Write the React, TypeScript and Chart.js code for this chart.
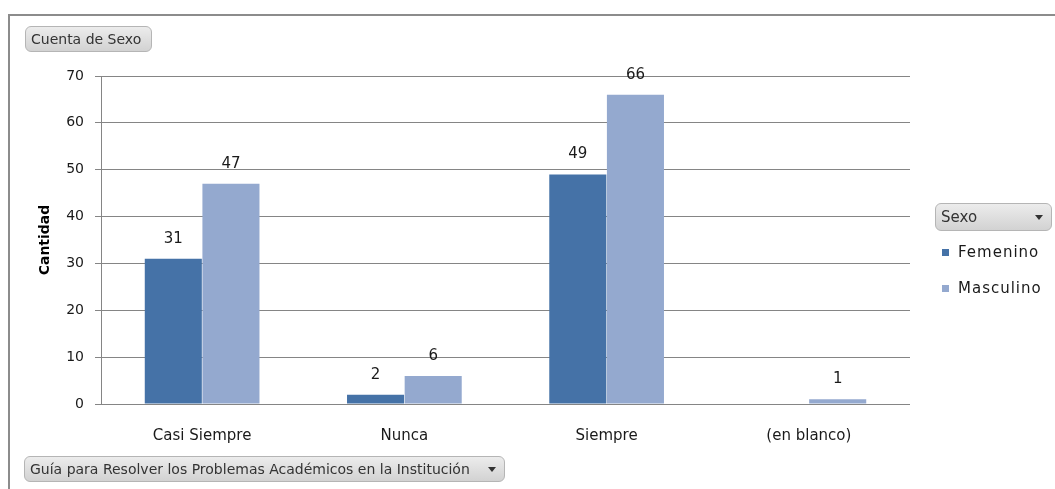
import React, { useEffect, useRef } from "react";
import { Chart, registerables } from "chart.js";

Chart.register(...registerables);

const categories = ["Casi Siempre", "Nunca", "Siempre", "(en blanco)"];
const femenino: (number | null)[] = [31, 2, 49, null];
const masculino: (number | null)[] = [47, 6, 66, 1];
const seriesNames = ["Femenino", "Masculino"];
const seriesColors = ["#4572A7", "#94A9CF"];
const yTitle = "Cantidad";
const fieldButton = "Cuenta de Sexo";
const legendButton = "Sexo";
const axisButton = "Guía para Resolver los Problemas Académicos en la Institución";

const FONT = "'DejaVu Sans', Verdana, sans-serif";

const labelPlugin = {
  id: "valueLabels",
  afterDatasetsDraw(chart: any) {
    const ctx = chart.ctx;
    ctx.save();
    ctx.font = `15px ${FONT}`;
    ctx.fillStyle = "#1a1a1a";
    ctx.textAlign = "center";
    ctx.textBaseline = "middle";
    chart.data.datasets.forEach((ds: any, i: number) => {
      const meta = chart.getDatasetMeta(i);
      meta.data.forEach((bar: any, j: number) => {
        const v = ds.data[j];
        if (v === null || v === undefined) return;
        ctx.fillText(String(v), bar.x, bar.y - 20);
      });
    });
    ctx.restore();
  },
};

const btnStyle: React.CSSProperties = {
  position: "absolute",
  boxSizing: "border-box",
  border: "1px solid #b5b5b5",
  borderRadius: 6,
  background: "linear-gradient(#ececec, #d2d2d2)",
  fontFamily: FONT,
  fontSize: 14,
  color: "#333",
  display: "flex",
  alignItems: "center",
  paddingLeft: 5,
  whiteSpace: "nowrap",
};

const Arrow = () => (
  <span
    style={{
      position: "absolute",
      right: 8,
      top: "50%",
      marginTop: -2,
      width: 0,
      height: 0,
      borderLeft: "4px solid transparent",
      borderRight: "4px solid transparent",
      borderTop: "5px solid #333",
    }}
  />
);

export default function App() {
  const canvasRef = useRef<HTMLCanvasElement>(null);

  useEffect(() => {
    document.body.style.margin = "0";
    const chart = new Chart(canvasRef.current!, {
      type: "bar",
      data: {
        labels: categories,
        datasets: [
          {
            label: seriesNames[0],
            data: femenino,
            backgroundColor: seriesColors[0],
            categoryPercentage: 0.57,
            barPercentage: 0.99,
          },
          {
            label: seriesNames[1],
            data: masculino,
            backgroundColor: seriesColors[1],
            categoryPercentage: 0.57,
            barPercentage: 0.99,
          },
        ],
      },
      options: {
        animation: false,
        responsive: false,
        layout: { padding: { left: 30, top: 76, right: 145, bottom: 0 } },
        plugins: {
          legend: { display: false },
          tooltip: { enabled: false },
        },
        scales: {
          x: {
            grid: { display: false },
            border: { display: false },
            ticks: {
              color: "#1a1a1a",
              font: { family: FONT, size: 15 },
              padding: 15,
            },
            afterFit: (s: any) => {
              s.height = 85;
            },
          },
          y: {
            min: 0,
            max: 70,
            ticks: {
              stepSize: 10,
              color: "#1a1a1a",
              font: { family: FONT, size: 14 },
              padding: 11,
            },
            grid: { color: "#858585", tickLength: 6, lineWidth: 1 },
            border: { color: "#858585", width: 1 },
            title: {
              display: true,
              text: yTitle,
              color: "#000",
              font: { family: FONT, size: 14, weight: "bold" },
              padding: { top: 7, bottom: 0 },
            },
            afterFit: (s: any) => {
              s.width = 71;
            },
          },
        },
      },
      plugins: [labelPlugin],
    });
    return () => chart.destroy();
  }, []);

  return (
    <div
      style={{
        position: "fixed",
        left: 0,
        top: 0,
        width: 1055,
        height: 489,
        background: "#fff",
        overflow: "hidden",
      }}
    >
      <div
        style={{
          position: "absolute",
          left: 8,
          top: 14,
          width: 1060,
          height: 500,
          borderLeft: "2px solid #8c8c8c",
          borderTop: "2px solid #8c8c8c",
        }}
      />
      <canvas
        ref={canvasRef}
        width={1055}
        height={489}
        style={{ position: "absolute", left: 0, top: 0 }}
      />
      <div style={{ ...btnStyle, left: 25, top: 26, width: 127, height: 26 }}>
        {fieldButton}
      </div>
      <div style={{ ...btnStyle, left: 935, top: 203, width: 117, height: 28, fontSize: 15 }}>
        {legendButton}
        <Arrow />
      </div>
      <div style={{ ...btnStyle, left: 24, top: 456, width: 481, height: 26 }}>
        {axisButton}
        <Arrow />
      </div>
      {seriesNames.map((name, i) => (
        <div
          key={name}
          style={{
            position: "absolute",
            left: 942,
            top: 243 + i * 36,
            height: 18,
            display: "flex",
            alignItems: "center",
            fontFamily: FONT,
            fontSize: 15,
            letterSpacing: 1,
            color: "#1a1a1a",
          }}
        >
          <span
            style={{
              display: "inline-block",
              width: 7,
              height: 7,
              background: seriesColors[i],
              marginRight: 9,
            }}
          />
          {name}
        </div>
      ))}
    </div>
  );
}
